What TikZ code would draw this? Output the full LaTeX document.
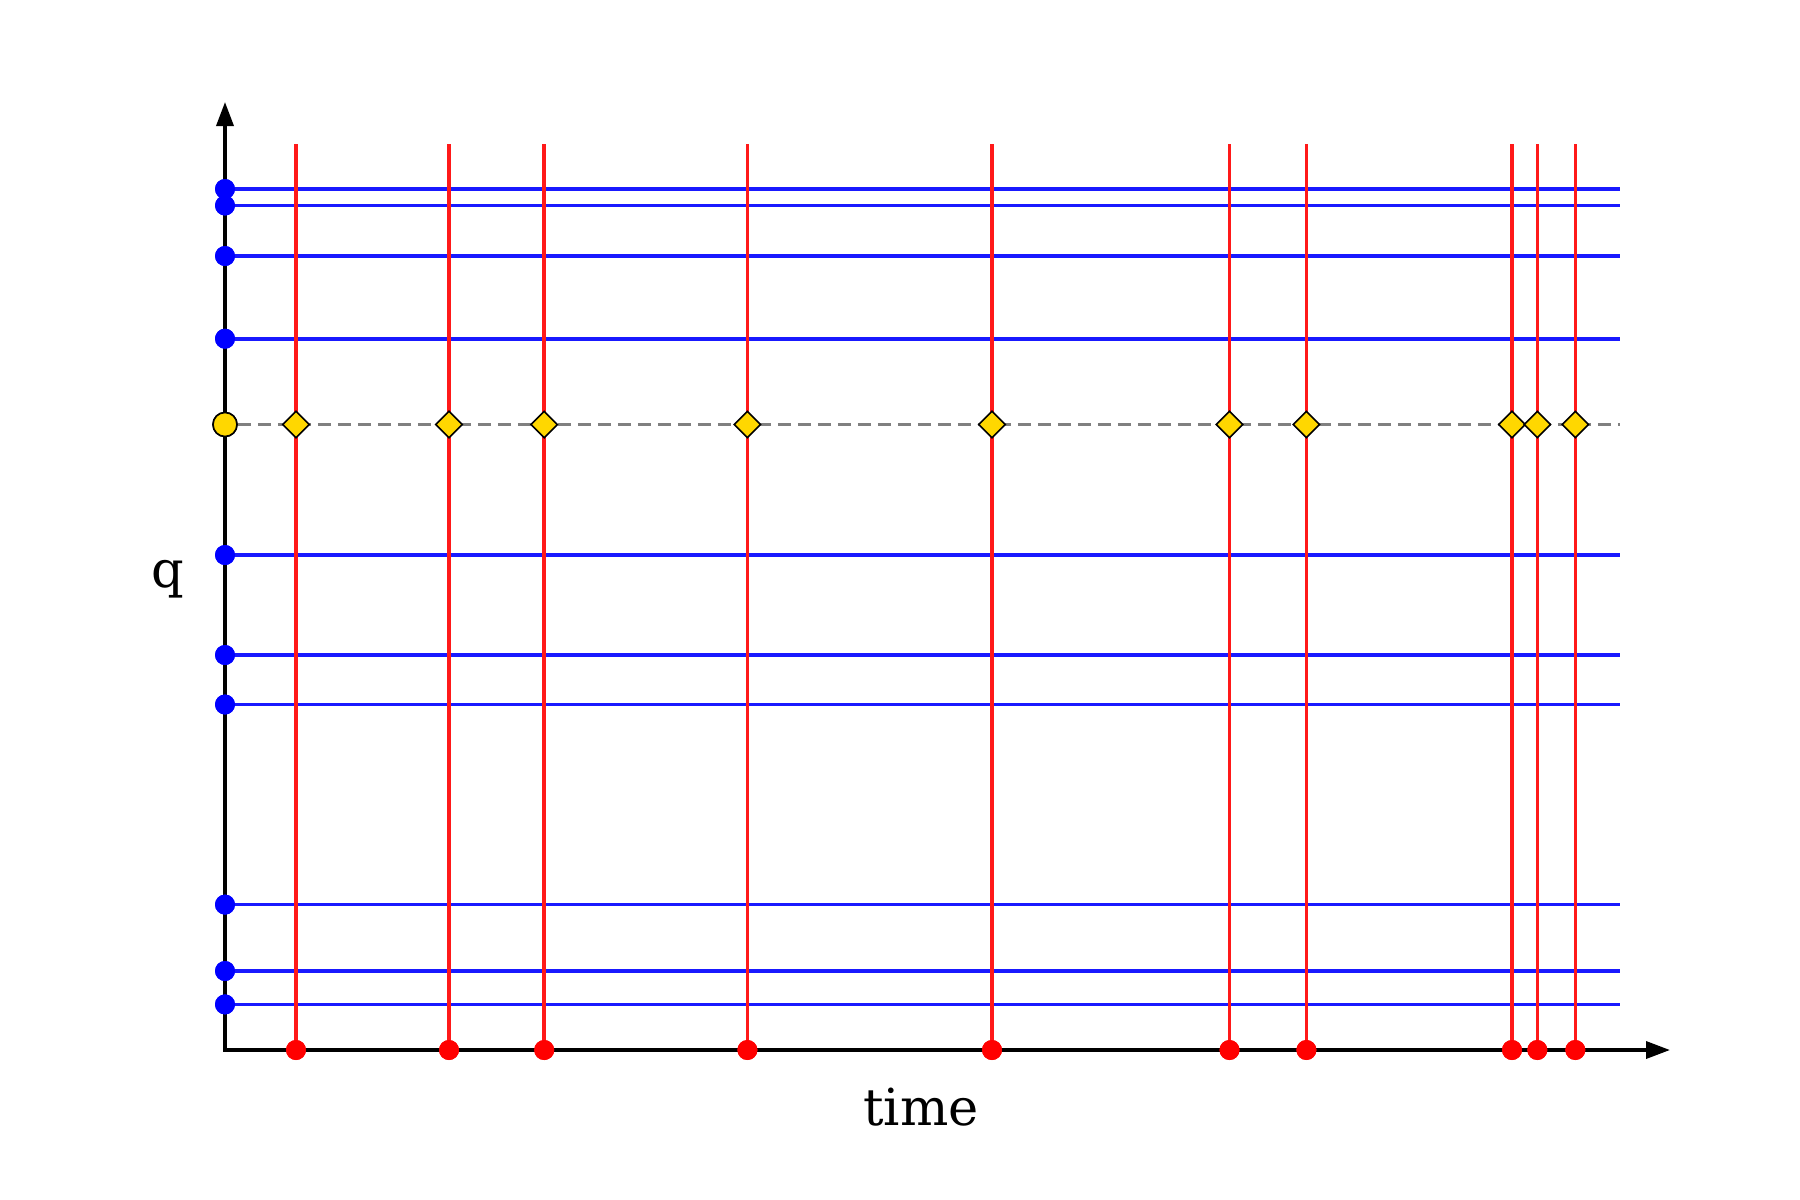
\documentclass[tikz,border=0pt]{standalone}
\usepackage{fontspec}
\setmainfont{DejaVu Serif}
\usetikzlibrary{arrows.meta,shapes.geometric}
\definecolor{gold}{RGB}{255,215,0}
\definecolor{qblue}{RGB}{25,25,255}
\definecolor{tred}{RGB}{255,25,25}
\definecolor{dgray}{RGB}{128,128,128}
\begin{document}
\begin{tikzpicture}[x=0.5pt,y=-0.5pt,
  axisline/.style={line width=1.75pt,black},
  qline/.style={line width=1.8pt,qblue},
  tline/.style={line width=1.8pt,tred},
  qdot/.style={circle,fill=blue,inner sep=0pt,minimum size=10pt},
  tdot/.style={circle,fill=red,inner sep=0pt,minimum size=10pt},
  gdia/.style={diamond,draw=black,fill=gold,line width=0.8pt,inner sep=0pt,minimum width=13.5pt,minimum height=13.5pt},
  gcirc/.style={circle,draw=black,fill=gold,line width=0.8pt,inner sep=0pt,minimum size=12pt},
  dashline/.style={line width=1.8pt,dgray,dash pattern=on 6.5pt off 3.5pt},
  lbl/.style={font=\fontsize{25.5}{30}\selectfont,anchor=base}]
\useasboundingbox (0,0) rectangle (1800,1200);
% axes
\coordinate (O) at (225,1050);
\coordinate (ytip) at (225,102);
\coordinate (xtip) at (1670,1050);
\draw[axisline,{Triangle[length=12pt,width=8.5pt]}-{Triangle[length=12pt,width=8.5pt]}] (ytip) -- (O) -- (xtip);
% blue horizontal lines
\foreach \y [count=\i] in {189,205.5,256,338.7,555,655,704.5,904.6,971,1004.4}{
  \node[qdot] (b\i) at (225,\y) {};
  \coordinate (be\i) at (1620,\y);
}
\foreach \i in {1,...,10}{
  \draw[qline] (b\i.center) -- (be\i);
}
% red vertical lines
\foreach \x [count=\i] in {296,449,544.2,747.4,992,1229.5,1306.4,1512,1537.3,1575.3}{
  \node[tdot] (r\i) at (\x,1050) {};
  \coordinate (rt\i) at (\x,144);
}
\foreach \i in {1,...,10}{
  \draw[tline] (r\i.center) -- (rt\i);
}
% dashed line
\node[gcirc] (y0) at (225,424.5) {};
\coordinate (ye) at (1620,424.5);
\draw[dashline] (y0) -- (ye);
\node[gcirc] at (y0) {};
\foreach \x [count=\i] in {296,449,544.2,747.4,992,1229.5,1306.4,1512,1537.3,1575.3}{
  \node[gdia] (d\i) at (\x,424.5) {};
}
% redraw dots on top
\foreach \i in {1,...,10}{
  \node[tdot] at (r\i) {};
  \node[qdot] at (b\i) {};
}
% labels
\node[lbl] (qlab) at (168,587) {q};
\node[lbl] (tlab) at (921,1125) {time};
\end{tikzpicture}
\end{document}
